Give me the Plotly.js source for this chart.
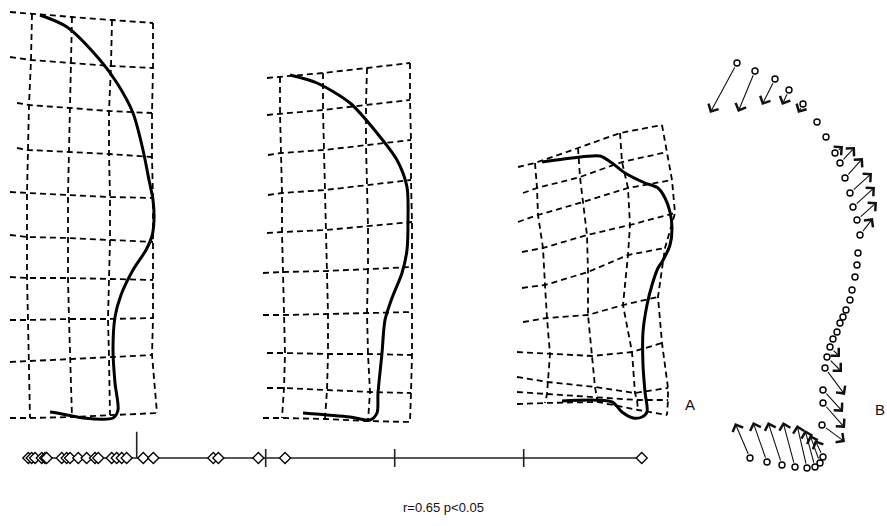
<!DOCTYPE html>
<html>
<head>
<meta charset="utf-8">
<script src="https://cdn.plot.ly/plotly-3.0.1.min.js"></script>
<style>html,body{margin:0;padding:0;background:#fff;}#chart{width:887px;height:526px;}</style>
</head>
<body>
<div id="chart"></div>
<script>
// ---------- Panel A: deformation grids (rows x 5 nodes; node 0 = left stub) ----------
const grid1X = [
  [10,32,72,112,153],[10,31,71,111,153],[17,29,70,109,152],[17,28,69,109,152],[10,27,68,110,153],
  [10,27,68,110,153],[10,27,68,109,153],[10,28,69,108,153],[10,29,70,109,152],[10,30,72,110,157]];
const grid1Y = [
  [12,14,17,20,23],[57,60,63,66,68],[103,105,108,111,113],[148,150,152,154,157],[192,193,195,197,198],
  [235,237,238,240,242],[277,278,278,279,280],[320,320,319,319,318],[362,361,359,357,355],[418,418,417,415,413]];

const grid2X = [
  [267,280,323,367,410],[267,280,323,366,410],[268,281,324,366,411],[268,282,325,367,411],[267,282,326,368,412],
  [263,283,327,368,412],[263,284,328,367,412],[267,285,328,368,412],[267,284,327,370,411],[263,282,325,368,410]];
const grid2Y = [
  [78,77,73,68,63],[115,114,110,105,100],[155,153,150,145,140],[195,193,190,185,180],[233,232,230,226,222],
  [273,272,271,269,267],[315,315,314,313,312],[353,353,354,354,355],[388,388,390,392,393],[418,418,419,421,422]];

const grid3X = [
  [518,535,578,620,662],[523,537,580,622,667],[518,538,583,628,672],[522,543,587,630,675],[522,545,588,628,665],
  [523,547,588,623,658],[517,550,592,632,662],[517,548,595,635,668],[517,547,597,637,668],[517,545,598,638,667]];
const grid3Y = [
  [167,163,148,133,125],[193,188,177,162,152],[222,215,202,188,180],[252,248,235,225,213],[288,285,272,255,248],
  [322,318,315,305,297],[352,354,356,352,343],[377,382,387,393,388],[392,394,398,400,400],[404,403,402,410,415]];

// ---------- Outlines ----------
const outline1X = [40,67,100,117,133,143,149,153,154,152,146,133,121,115,113,115,118,113,83,57,50];
const outline1Y = [15,27,60,83,113,150,180,200,220,236,250,270,295,317,350,383,410,418,418,413,412];
const outline2X = [290,317,350,377,397,407,408,407,402,392,385,382,378,377,370,350,303];
const outline2Y = [75,83,103,133,160,187,220,250,273,298,320,353,393,413,420,417,413];
const outline3X = [542,572,600,612,625,645,658,665,670,672,670,662,658,652,647,643,643,645,647,642,633,622,612,562];
const outline3Y = [162,158,156,163,173,183,188,198,212,228,245,262,268,285,305,332,365,392,412,417,418,412,402,401];

// ---------- Panel B: landmarks and displacement tips ----------
const landmarkX = [737,755,775,789,803,817,826,835,840,845,850,853,857,860,858,857,855,852,850,846,843,840,837,833,
  830,827,825,823,823,822,823,820,815,807,795,782,767,750];
const landmarkY = [63,71,79,90,104,122,137,153,163,178,193,207,220,235,253,265,277,290,300,310,317,323,332,339,
  347,357,368,390,403,425,457,463,467,468,467,465,462,458];
const tipX = [710,738,762,782,798,817,826,843,855,863,872,875,877,873,860,858,856,853,851,848,845,842,839,836,
  840,842,845,843,845,845,815,810,805,797,783,768,753,735];
const tipY = [113,112,105,105,113,122,137,146,147,158,173,187,202,218,248,262,275,288,298,305,313,320,330,342,
  357,372,395,412,428,442,440,435,430,425,422,422,422,423];

// ---------- Score axis ----------
const scores = [-0.840,-0.814,-0.788,-0.736,-0.711,-0.698,-0.581,-0.543,-0.517,-0.453,-0.388,-0.323,-0.298,
  -0.194,-0.155,-0.116,-0.078,0.051,0.129,0.594,0.633,0.943,1.150,3.915];
const tickValues = [1,2,3];
const caption = 'r=0.65 p<0.05';
const panelLabels = ['A','B'];

// ---------- helpers ----------
function gridTrace(gx, gy){
  const xs=[], ys=[];
  for(let r=0;r<gx.length;r++){ for(let c=0;c<gx[r].length;c++){xs.push(gx[r][c]);ys.push(gy[r][c]);} xs.push(null);ys.push(null); }
  for(let c=1;c<gx[0].length;c++){ for(let r=0;r<gx.length;r++){xs.push(gx[r][c]);ys.push(gy[r][c]);} xs.push(null);ys.push(null); }
  return {x:xs,y:ys,mode:'lines',xaxis:'x',yaxis:'y',connectgaps:false,hoverinfo:'skip',
    line:{color:'#000',width:1.8,dash:'6px,4px'}};
}
function outlineTrace(ox, oy){
  return {x:ox,y:oy,mode:'lines',xaxis:'x',yaxis:'y',hoverinfo:'skip',
    line:{color:'#000',width:3,shape:'spline',smoothing:0.8}};
}

const traces = [
  gridTrace(grid1X,grid1Y), gridTrace(grid2X,grid2Y), gridTrace(grid3X,grid3Y),
  outlineTrace(outline1X,outline1Y), outlineTrace(outline2X,outline2Y), outlineTrace(outline3X,outline3Y),
  {x:landmarkX,y:landmarkY,mode:'markers',xaxis:'x',yaxis:'y',hoverinfo:'skip',
    marker:{symbol:'circle-open',size:6,color:'#000',line:{width:1.4,color:'#000'}}},
  // score axis line
  {x:[Math.min(...scores),Math.max(...scores)],y:[0,0],mode:'lines',xaxis:'x2',yaxis:'y2',hoverinfo:'skip',
    line:{color:'#222',width:1.6}},
  // origin tick
  {x:[0,0],y:[0,1.15],mode:'lines',xaxis:'x2',yaxis:'y2',hoverinfo:'skip',line:{color:'#222',width:1.6}},
  // small ticks
  {x:tickValues,y:tickValues.map(()=>0),mode:'markers',xaxis:'x2',yaxis:'y2',hoverinfo:'skip',
    marker:{symbol:'line-ns',size:13,line:{width:1.6,color:'#222'}}},
  // scores
  {x:scores,y:scores.map(()=>0),mode:'markers',xaxis:'x2',yaxis:'y2',hoverinfo:'skip',
    marker:{symbol:'diamond',size:8.5,color:'#fff',line:{width:1.3,color:'#000'}}}
];

const annotations = [];
for(let i=0;i<landmarkX.length;i++){
  const dx=tipX[i]-landmarkX[i], dy=tipY[i]-landmarkY[i];
  if(Math.hypot(dx,dy)<3) continue;
  annotations.push({x:tipX[i],y:tipY[i],ax:landmarkX[i],ay:landmarkY[i],xref:'x',yref:'y',axref:'x',ayref:'y',
    text:'',showarrow:true,arrowhead:4,arrowsize:2,arrowwidth:1.1,arrowcolor:'#111',standoff:0,startstandoff:3});
}
annotations.push({x:443,y:507,xref:'x',yref:'y',text:caption,showarrow:false,
  font:{family:'Liberation Sans, Arial, sans-serif',size:13,color:'#111'}});
annotations.push({x:690,y:404,xref:'x',yref:'y',text:panelLabels[0],showarrow:false,
  font:{family:'Liberation Sans, Arial, sans-serif',size:15,color:'#111'}});
annotations.push({x:880,y:409,xref:'x',yref:'y',text:panelLabels[1],showarrow:false,
  font:{family:'Liberation Sans, Arial, sans-serif',size:15,color:'#111'}});

const axisPx = 458, W = 887, H = 526, originPx = 136.7, unitPx = 129;
const d = 1 - axisPx/H;
const layout = {
  width:W,height:H,margin:{l:0,r:0,t:0,b:0},paper_bgcolor:'#fff',plot_bgcolor:'rgba(0,0,0,0)',showlegend:false,
  xaxis:{range:[0,W],visible:false,domain:[0,1]},
  yaxis:{range:[H,0],visible:false,domain:[0,1]},
  xaxis2:{range:[-originPx/unitPx,(W-originPx)/unitPx],visible:false,domain:[0,1],anchor:'y2'},
  yaxis2:{range:[-1,1],visible:false,domain:[d-0.05,d+0.05],anchor:'x2'},
  annotations:annotations
};
Plotly.newPlot('chart',traces,layout,{staticPlot:true,displayModeBar:false});
</script>
</body>
</html>
